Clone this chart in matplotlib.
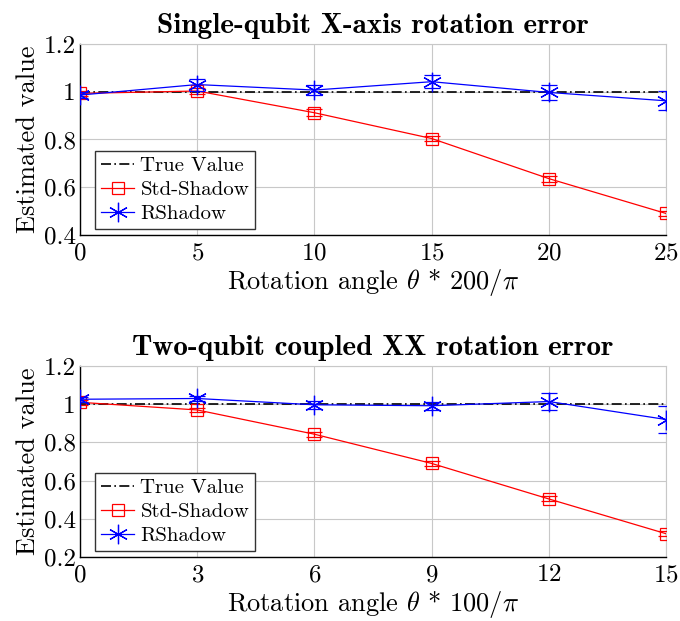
import numpy as np
import matplotlib
matplotlib.use("Agg")
import matplotlib.pyplot as plt
from matplotlib.lines import Line2D
from matplotlib.ticker import FuncFormatter

plt.rcParams['font.family'] = ['cmr10', 'DejaVu Serif']
plt.rcParams['mathtext.fontset'] = 'cm'
plt.rcParams['axes.unicode_minus'] = False
plt.rcParams['axes.formatter.use_mathtext'] = True

# datos panel superior (1 qubit)
x_single = [0, 5, 10, 15, 20, 25]
std_single = [0.993, 1.003, 0.912, 0.804, 0.636, 0.490]
std_single_err = [0.012, 0.012, 0.015, 0.012, 0.013, 0.012]
rs_single = [0.986, 1.030, 1.007, 1.042, 0.997, 0.962]
rs_single_err = [0.012, 0.025, 0.02, 0.027, 0.03, 0.04]

# datos panel inferior (2 qubits)
x_two = [0, 3, 6, 9, 12, 15]
std_two = [1.010, 0.970, 0.843, 0.690, 0.504, 0.322]
std_two_err = [0.012, 0.012, 0.013, 0.012, 0.013, 0.012]
rs_two = [1.026, 1.030, 0.997, 0.992, 1.014, 0.920]
rs_two_err = [0.012, 0.015, 0.02, 0.02, 0.043, 0.07]

true_value = 1.0

titles = ['Single-qubit X-axis rotation error', 'Two-qubit coupled XX rotation error']
xlabels = [r'Rotation angle $\theta$ * 200/$\pi$', r'Rotation angle $\theta$ * 100/$\pi$']
ylims = [(0.4, 1.2), (0.2, 1.2)]

fig = plt.figure(figsize=(6.8, 6.21), dpi=100)
ax1 = fig.add_axes([0.1176, 0.6216, 0.862, 0.3076])
ax2 = fig.add_axes([0.1176, 0.103, 0.862, 0.3076])

paneles = [
    (ax1, x_single, std_single, std_single_err, rs_single, rs_single_err),
    (ax2, x_two, std_two, std_two_err, rs_two, rs_two_err),
]

asterisco = (6, 2, 0)
estilo_true = dict(color='black', linestyle=(0, (6, 2, 1, 2)), linewidth=1.2)
estilo_std = dict(color='red', marker='s', markersize=9, markerfacecolor='none',
                  markeredgewidth=0.9, linewidth=0.9)
estilo_rs = dict(color='blue', marker=asterisco, markersize=14,
                 markeredgewidth=0.9, linewidth=0.9)

for i, (ax, xs, std, std_err, rs, rs_err) in enumerate(paneles):
    ax.plot(xs, [true_value] * len(xs), zorder=3, **estilo_true)
    ax.errorbar(xs, std, yerr=std_err, capsize=6, elinewidth=0.9, capthick=0.9,
                zorder=4, **estilo_std)
    ax.errorbar(xs, rs, yerr=rs_err, capsize=6, elinewidth=0.9, capthick=0.9,
                zorder=5, **estilo_rs)

    ax.set_xlim(xs[0], xs[-1])
    ax.set_ylim(*ylims[i])
    ax.set_xticks(xs)
    ax.set_yticks(np.arange(ylims[i][0], 1.21, 0.2))
    ax.yaxis.set_major_formatter(FuncFormatter(lambda v, p: '%g' % round(v, 2)))
    ax.grid(True, color='#c8c8c8', linewidth=0.8)
    ax.set_axisbelow(True)
    ax.tick_params(length=0, labelsize=18)
    ax.tick_params(axis='y', pad=3)
    ax.tick_params(axis='x', pad=5)
    for lado in ['top', 'right']:
        ax.spines[lado].set_color('#c8c8c8')
    for lado in ['left', 'bottom']:
        ax.spines[lado].set_color('black')
        ax.spines[lado].set_linewidth(1.0)

    ax.set_title(titles[i], fontsize=21, family=['cmb10', 'DejaVu Serif'], pad=8)
    ax.set_xlabel(xlabels[i], fontsize=19, labelpad=2)
    ax.set_ylabel('Estimated value', fontsize=19, labelpad=3)

    handles = [Line2D([], [], **estilo_true), Line2D([], [], **estilo_std),
               Line2D([], [], **estilo_rs)]
    leg = ax.legend(handles, ['True Value', 'Std-Shadow', 'RShadow'],
                    loc='lower left', bbox_to_anchor=(0.025, 0.03), borderaxespad=0,
                    fontsize=15, fancybox=False, edgecolor='#333333', framealpha=1,
                    handlelength=1.6, handletextpad=0.3, labelspacing=0.25,
                    borderpad=0.3)
    leg.get_frame().set_linewidth(1.0)

fig.savefig('out.png', dpi=100)
